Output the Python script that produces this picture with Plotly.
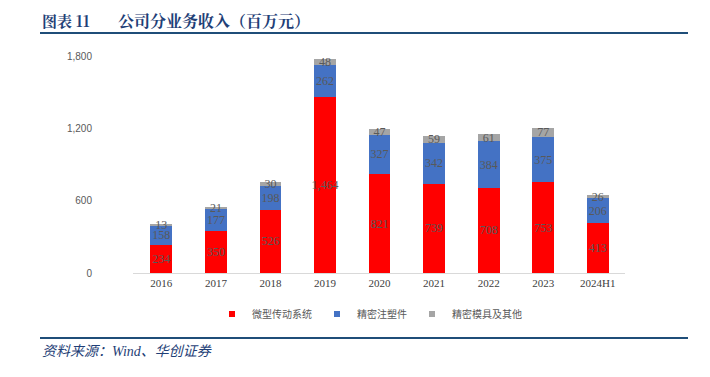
import plotly.graph_objects as go

categories = ["2016", "2017", "2018", "2019", "2020", "2021", "2022", "2023", "2024H1"]
micro_drive = [234, 350, 526, 1464, 821, 739, 708, 753, 413]
precision_molding = [158, 177, 198, 262, 327, 342, 384, 375, 206]
molds_other = [13, 21, 30, 48, 47, 59, 61, 77, 26]
series_names = ["微型传动系统", "精密注塑件", "精密模具及其他"]
colors = ["#FF0000", "#4472C4", "#A5A5A5"]

L, R, T, B = 133, 85, 56, 104
W, H = 710, 377
pw, ph = W - L - R, H - T - B

def px_x(x):
    return (x - L) / pw

def px_y(y):
    return (H - B - y) / ph

fig = go.Figure()
for name, vals, c in zip(series_names, [micro_drive, precision_molding, molds_other], colors):
    fig.add_trace(go.Bar(
        x=categories, y=vals, name=name, showlegend=False,
        marker=dict(color=c, line=dict(width=0)),
        texttemplate="%{y:,}", textposition="inside", insidetextanchor="middle",
        textangle=0, constraintext="none",
        textfont=dict(family="Times New Roman, Liberation Serif, serif", size=12, color="#595959"),
    ))
# legend entries with small square markers
for name, c in zip(series_names, colors):
    fig.add_trace(go.Scatter(x=[categories[0]], y=[None], mode="markers", name=name,
                             marker=dict(symbol="square", size=6, color=c), hoverinfo="skip"))

fig.update_layout(
    width=W, height=H,
    barmode="stack", bargap=0.6,
    margin=dict(l=L, r=R, t=T, b=B),
    plot_bgcolor="white", paper_bgcolor="white",
    uniformtext=dict(minsize=12, mode="show"),
    showlegend=True,
    legend=dict(orientation="h", x=px_x(212), xanchor="left", y=px_y(314), yanchor="middle",
                font=dict(family="Noto Sans CJK SC", size=10, color="#595959"),
                itemwidth=30, traceorder="normal", tracegroupgap=0),
    xaxis=dict(showline=True, linecolor="#D9D9D9", linewidth=1, ticks="",
               tickfont=dict(family="Times New Roman, Liberation Serif, serif", size=11, color="#404040")),
    yaxis=dict(range=[0, 1800], tickvals=[0, 600, 1200, 1800], tickformat=",d",
               showgrid=False, zeroline=False, ticks="", ticklabelstandoff=40,
               tickfont=dict(family="Liberation Sans, Arial, sans-serif", size=10, color="#595959")),
)

line_color = "#1F4E79"
fig.add_shape(type="line", xref="paper", yref="paper", x0=px_x(40), x1=px_x(688),
              y0=px_y(33), y1=px_y(33), line=dict(color=line_color, width=2))
fig.add_shape(type="line", xref="paper", yref="paper", x0=px_x(40), x1=px_x(688),
              y0=px_y(338), y1=px_y(338), line=dict(color=line_color, width=2))

fig.add_annotation(text="<b>图表 11</b>", xref="paper", yref="paper",
                   x=px_x(40), y=px_y(20), xanchor="left", yanchor="middle", showarrow=False,
                   font=dict(family="Noto Serif CJK SC, Noto Sans CJK SC", size=15, color="#1F3F77"))
fig.add_annotation(text="<b>公司分业务收入（百万元）</b>", xref="paper", yref="paper",
                   x=px_x(116), y=px_y(20), xanchor="left", yanchor="middle", showarrow=False,
                   font=dict(family="Noto Serif CJK SC, Noto Sans CJK SC", size=16, color="#1F3F77"))
fig.add_annotation(text="<i>资料来源：Wind、华创证券</i>", xref="paper", yref="paper",
                   x=px_x(40), y=px_y(352), xanchor="left", yanchor="middle", showarrow=False,
                   font=dict(family="Liberation Serif, Noto Sans CJK SC", size=14, color="#1F3F77"))

fig.write_html("out.html", config={"displayModeBar": False},
               post_script="document.body.style.margin='0';")
